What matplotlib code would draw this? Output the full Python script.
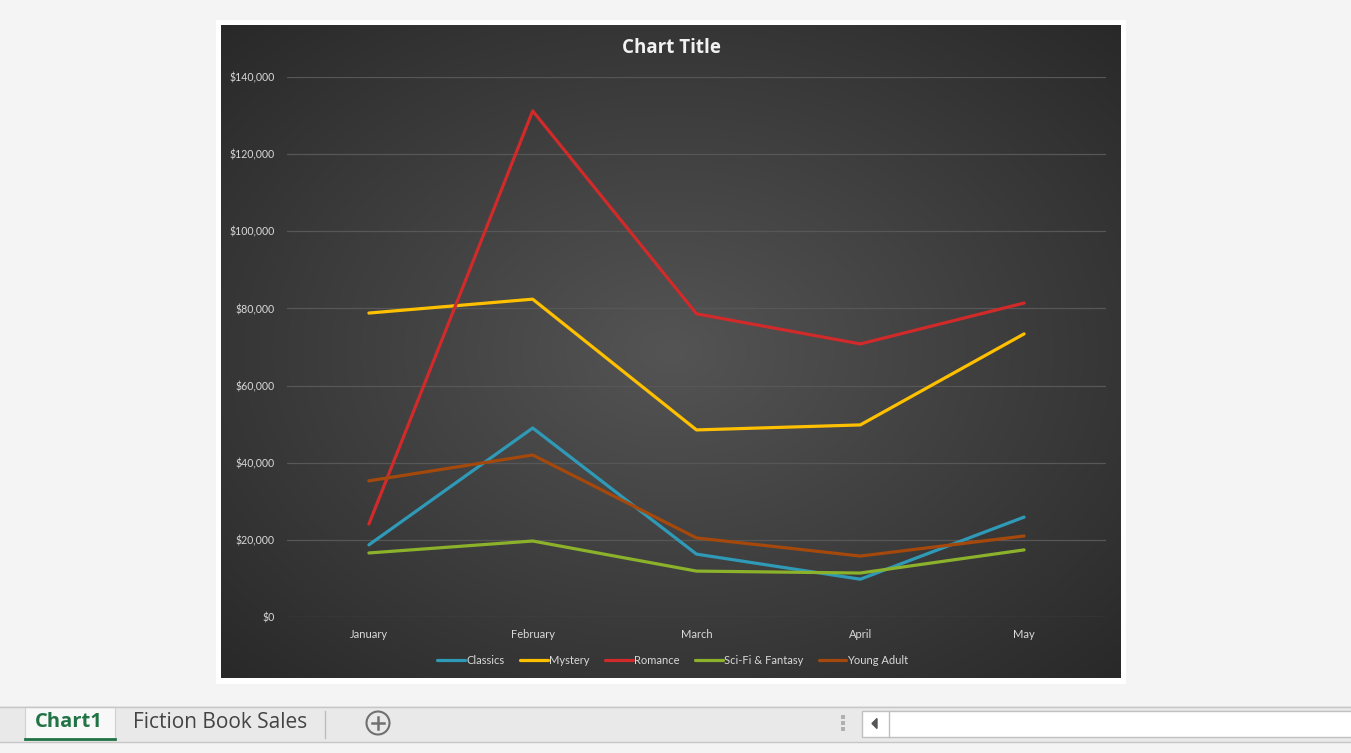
import numpy as np
import matplotlib.pyplot as plt
from matplotlib.patches import Rectangle, Circle
from matplotlib.ticker import FuncFormatter

months = ['January', 'February', 'March', 'April', 'May']
classics = [18700, 49000, 16300, 9800, 25900]
mystery = [78800, 82400, 48500, 49800, 73400]
romance = [24100, 131200, 78600, 70800, 81400]
scifi = [16600, 19700, 11900, 11400, 17400]
young_adult = [35300, 42000, 20500, 15800, 21000]

series = [('Classics', classics, '#2f9ab8'),
          ('Mystery', mystery, '#ffc000'),
          ('Romance', romance, '#d12a2a'),
          ('Sci-Fi & Fantasy', scifi, '#8bb22a'),
          ('Young Adult', young_adult, '#a5480c')]

W, H = 1351, 753
plt.rcParams['font.family'] = ['Lato', 'DejaVu Sans']
fig = plt.figure(figsize=(W / 100, H / 100), dpi=100, facecolor='#f4f4f4')


def px_axes(x0, y0, x1, y1, **kw):
    return fig.add_axes([x0 / W, 1 - y1 / H, (x1 - x0) / W, (y1 - y0) / H], **kw)


# white frame and dark radial-gradient chart area
frame = px_axes(216, 20, 1126, 684)
frame.set_facecolor('white')
frame.set_xticks([]); frame.set_yticks([])
for s in frame.spines.values():
    s.set_visible(False)

bg = px_axes(221, 25, 1121, 678)
yy, xx = np.mgrid[-1:1:300j, -1:1:400j]
r = np.sqrt(xx ** 2 + yy ** 2) / np.sqrt(2)
grad = 0.33 - 0.17 * r
bg.imshow(np.dstack([grad] * 3), aspect='auto', extent=[0, 1, 0, 1])
bg.set_xticks([]); bg.set_yticks([])
for s in bg.spines.values():
    s.set_visible(False)
bg.text(0.5, 1 - 23 / 653, 'Chart Title', ha='center', va='center', color='#f2f2f2',
        fontsize=13.5, fontweight='bold', family=['Open Sans', 'DejaVu Sans'],
        transform=bg.transAxes)

# plot area
ax = px_axes(287, 77, 1106, 617)
ax.patch.set_alpha(0)
x = np.arange(len(months))
for name, vals, col in series:
    ax.plot(x, vals, color=col, lw=2.3, label=name, solid_capstyle='round',
            solid_joinstyle='round')
ax.set_xlim(-0.5, len(months) - 0.5)
ax.set_ylim(0, 140000)
ax.set_yticks(range(0, 140001, 20000))
ax.yaxis.set_major_formatter(FuncFormatter(lambda v, p: '${:,.0f}'.format(v)))
ax.set_xticks(x)
ax.set_xticklabels(months)
ax.tick_params(colors='#d9d9d9', labelsize=8, length=0)
ax.tick_params(axis='y', labelsize=7.6, pad=9)
ax.tick_params(axis='x', pad=9)
ax.grid(axis='y', color='#575757', lw=0.9)
ax.set_axisbelow(True)
for s in ax.spines.values():
    s.set_visible(False)
leg = fig.legend(*ax.get_legend_handles_labels(), loc='center',
                 bbox_to_anchor=(673 / W, 1 - 660 / H), ncol=5,
                 frameon=False, fontsize=8, handlelength=2.5, handletextpad=0.1,
                 columnspacing=1.4)
for t in leg.get_texts():
    t.set_color('#d9d9d9')

# sheet tab bar
ov = fig.add_axes([0, 0, 1, 1])
ov.set_xlim(0, W); ov.set_ylim(H, 0)
ov.axis('off')
ov.add_patch(Rectangle((0, 706), W, 36, facecolor='#e9e9e9', edgecolor='none'))
ov.plot([0, W], [706.5, 706.5], color='#c6c6c6', lw=1)
ov.plot([0, W], [741.5, 741.5], color='#c6c6c6', lw=1)
ov.add_patch(Rectangle((25, 707), 90, 33, facecolor='#f8f8f8', edgecolor='#d0d0d0', lw=0.8))
ov.plot([25, 115], [739, 739], color='#217346', lw=2)
ov.text(69, 722, 'Chart1', ha='center', va='center', color='#217346',
        fontsize=14.5, fontweight='bold', family=['Open Sans', 'DejaVu Sans'])
ov.text(220, 722, 'Fiction Book Sales', ha='center', va='center', color='#444444',
        fontsize=15, family=['Open Sans', 'DejaVu Sans'])
ov.plot([325, 325], [711, 738], color='#bdbdbd', lw=1)
ov.add_patch(Circle((378, 723), 11.5, facecolor='none', edgecolor='#707070', lw=1.5))
ov.plot([372, 384], [723, 723], color='#707070', lw=1.8)
ov.plot([378, 378], [717, 729], color='#707070', lw=1.8)
for dy in (-6, 0, 6):
    ov.add_patch(Rectangle((841, 721 + dy), 3.5, 3.5, facecolor='#b0b0b0', edgecolor='none'))
ov.add_patch(Rectangle((862, 711), 495, 26, facecolor='white', edgecolor='#c0c0c0', lw=1))
ov.plot([889, 889], [711, 737], color='#c0c0c0', lw=1)
ov.fill([872, 877, 877], [723.5, 718.5, 728.5], color='#555555')

fig.savefig('out.png', dpi=100, facecolor=fig.get_facecolor())
